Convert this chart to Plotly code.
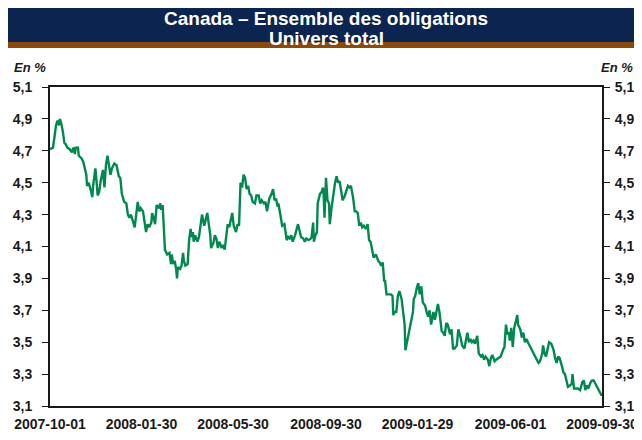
import pandas as pd
import plotly.graph_objects as go

# Jours depuis le 2007-10-01 et rendement (en %)
debut = pd.Timestamp("2007-10-01")
jours = [0, 4, 6, 8, 10, 12, 13, 15, 17, 19, 21, 23, 26, 29, 31, 33, 34, 37, 38, 40,
         42, 44, 46, 48, 49, 51, 53, 56, 57, 60, 61, 63, 65, 67, 70, 72, 74, 76, 78, 80,
         82, 85, 88, 91, 93, 95, 98, 101, 103, 105, 107, 109, 112, 114, 116, 118, 120, 123, 125, 127,
         129, 131, 134, 135, 137, 139, 141, 144, 146, 147, 149, 151, 152, 155, 158, 160, 161, 163, 165, 167,
         168, 169, 172, 174, 176, 177, 179, 182, 184, 186, 187, 189, 190, 192, 195, 197, 199, 201, 204, 206,
         208, 210, 212, 213, 216, 218, 220, 222, 224, 227, 229, 231, 233, 235, 237, 239, 241, 243, 246, 248,
         250, 252, 254, 256, 258, 260, 262, 264, 266, 268, 271, 273, 276, 278, 280, 283, 285, 287, 290, 293,
         295, 297, 299, 301, 302, 305, 307, 310, 311, 313, 315, 317, 319, 321, 324, 326, 328, 330, 332, 335,
         337, 339, 342, 345, 346, 348, 349, 351, 353, 354, 357, 359, 361, 362, 363, 365, 367, 369, 370, 372,
         374, 377, 379, 381, 383, 385, 387, 390, 392, 394, 396, 398, 401, 403, 405, 407, 409, 411, 413, 415,
         418, 420, 422, 424, 426, 428, 431, 434, 436, 438, 440, 442, 443, 445, 448, 451, 453, 454, 456, 458,
         460, 462, 465, 467, 469, 470, 473, 475, 477, 480, 481, 483, 485, 487, 489, 491, 493, 496, 498, 500,
         502, 504, 507, 509, 511, 513, 515, 518, 520, 522, 524, 526, 529, 531, 533, 535, 538, 540, 543, 545,
         548, 550, 552, 554, 556, 558, 560, 562, 565, 567, 570, 572, 574, 576, 579, 581, 583, 585, 588, 590,
         593, 596, 599, 601, 603, 605, 607, 608, 610, 612, 614, 616, 618, 619, 622, 624, 626, 628, 630, 633,
         635, 637, 639, 642, 644, 646, 648, 651, 652, 654, 656, 658, 660, 663, 666, 668, 670, 672, 674, 677,
         679, 681, 683, 685, 688, 690, 691, 693, 696, 698, 701, 704, 706, 708, 710, 712, 715, 717, 719, 722,
         724, 726, 729, 730]
rendement = [4.71, 4.72, 4.79, 4.86, 4.89, 4.86, 4.90, 4.87, 4.82, 4.75, 4.74, 4.72, 4.71, 4.69, 4.72, 4.68, 4.72, 4.72, 4.67, 4.66,
             4.65, 4.63, 4.58, 4.55, 4.48, 4.50, 4.47, 4.41, 4.48, 4.59, 4.54, 4.42, 4.44, 4.51, 4.58, 4.47, 4.61, 4.67, 4.61, 4.55,
             4.59, 4.62, 4.61, 4.54, 4.53, 4.43, 4.38, 4.37, 4.30, 4.28, 4.30, 4.26, 4.22, 4.30, 4.38, 4.32, 4.34, 4.32, 4.25, 4.19,
             4.24, 4.22, 4.25, 4.31, 4.28, 4.24, 4.36, 4.34, 4.37, 4.33, 4.36, 4.22, 4.08, 4.05, 4.06, 3.99, 4.05, 3.99, 4.01, 3.95,
             3.90, 3.97, 3.96, 3.98, 4.06, 4.01, 3.98, 3.99, 4.14, 4.21, 4.16, 4.19, 4.13, 4.17, 4.13, 4.16, 4.25, 4.30, 4.23, 4.28,
             4.31, 4.24, 4.17, 4.09, 4.12, 4.17, 4.15, 4.09, 4.13, 4.09, 4.11, 4.08, 4.18, 4.24, 4.22, 4.26, 4.31, 4.23, 4.19, 4.24,
             4.23, 4.50, 4.47, 4.55, 4.53, 4.46, 4.48, 4.43, 4.42, 4.38, 4.37, 4.42, 4.42, 4.37, 4.39, 4.37, 4.38, 4.32, 4.40, 4.43,
             4.46, 4.39, 4.40, 4.35, 4.37, 4.29, 4.23, 4.24, 4.19, 4.14, 4.16, 4.15, 4.17, 4.13, 4.17, 4.21, 4.24, 4.20, 4.16, 4.15,
             4.13, 4.15, 4.14, 4.15, 4.16, 4.25, 4.13, 4.17, 4.19, 4.37, 4.43, 4.44, 4.47, 4.42, 4.28, 4.53, 4.39, 4.37, 4.24, 4.33,
             4.41, 4.50, 4.54, 4.50, 4.51, 4.46, 4.39, 4.42, 4.45, 4.48, 4.47, 4.48, 4.40, 4.32, 4.32, 4.31, 4.23, 4.25, 4.22, 4.23,
             4.21, 4.24, 4.14, 4.13, 4.08, 4.03, 4.05, 4.01, 4.00, 3.98, 4.00, 3.88, 3.89, 3.80, 3.80, 3.80, 3.79, 3.67, 3.69, 3.69,
             3.79, 3.82, 3.77, 3.69, 3.61, 3.45, 3.52, 3.57, 3.61, 3.69, 3.77, 3.79, 3.84, 3.87, 3.80, 3.85, 3.75, 3.73, 3.69, 3.66,
             3.70, 3.61, 3.69, 3.64, 3.69, 3.74, 3.69, 3.57, 3.56, 3.54, 3.62, 3.61, 3.55, 3.58, 3.46, 3.46, 3.48, 3.58, 3.53, 3.48,
             3.46, 3.52, 3.56, 3.50, 3.52, 3.50, 3.51, 3.49, 3.54, 3.43, 3.41, 3.42, 3.39, 3.41, 3.39, 3.35, 3.40, 3.42, 3.38, 3.39,
             3.40, 3.41, 3.45, 3.47, 3.61, 3.55, 3.56, 3.51, 3.59, 3.47, 3.59, 3.64, 3.67, 3.61, 3.58, 3.53, 3.56, 3.50, 3.52, 3.49,
             3.47, 3.46, 3.44, 3.41, 3.39, 3.37, 3.38, 3.43, 3.48, 3.43, 3.41, 3.47, 3.50, 3.49, 3.45, 3.40, 3.37, 3.41, 3.40, 3.35,
             3.31, 3.30, 3.26, 3.22, 3.23, 3.24, 3.30, 3.21, 3.21, 3.21, 3.20, 3.25, 3.26, 3.20, 3.23, 3.21, 3.25, 3.26, 3.26, 3.23,
             3.22, 3.19, 3.17, 3.17]
dates = [debut + pd.Timedelta(days=j) for j in jours]

etiquettes_x = ["2007-10-01", "2008-01-30", "2008-05-30", "2008-09-30",
                "2009-01-29", "2009-06-01", "2009-09-30"]
valeurs_y = [3.1, 3.3, 3.5, 3.7, 3.9, 4.1, 4.3, 4.5, 4.7, 4.9, 5.1]

famille = "Liberation Sans, Arial, sans-serif"
police = dict(family=famille, size=14, color="#1a1a1a", weight="bold")
axe_y = dict(range=[3.1, 5.1], tickvals=valeurs_y, tickformat=".1f", showgrid=False, zeroline=False,
             showline=True, linecolor="#1a1a1a", linewidth=2, ticks="outside", ticklen=6,
             tickcolor="#1a1a1a", tickwidth=1, tickfont=police, fixedrange=True, automargin=False)

fig = go.Figure()
fig.add_trace(go.Scatter(x=dates, y=rendement, mode="lines",
                         line=dict(color="#00894f", width=2.4), showlegend=False))
# même série sur l'axe de droite (transparente) pour afficher ses graduations
fig.add_trace(go.Scatter(x=dates, y=rendement, mode="lines", yaxis="y2", opacity=0,
                         line=dict(color="#00894f", width=1), showlegend=False, hoverinfo="skip"))

# la page ajoute une marge de 8 px autour du graphique
fig.update_layout(
    width=634, height=424,
    margin=dict(l=42, r=40, t=79, b=26),
    paper_bgcolor="white", plot_bgcolor="white",
    separators=", ",
    xaxis=dict(range=[etiquettes_x[0], etiquettes_x[-1]], tickvals=etiquettes_x, ticktext=etiquettes_x,
               showgrid=False, zeroline=False, showline=True, linecolor="#1a1a1a", linewidth=2,
               mirror=True, ticks="outside", ticklen=4, tickcolor="rgba(0,0,0,0)", tickfont=police,
               automargin=False),
    yaxis=dict(axe_y, ticklabelstandoff=7),
    yaxis2=dict(axe_y, overlaying="y", side="right", ticklabelstandoff=2),
)

# Bandeau du titre
fig.add_shape(type="rect", xref="paper", yref="paper", x0=-0.0815, x1=1.075, y0=1.1413, y1=1.2575,
              fillcolor="#0b2550", line_width=0, layer="below")
fig.add_shape(type="rect", xref="paper", yref="paper", x0=-0.0815, x1=1.075, y0=1.1225, y1=1.1413,
              fillcolor="#8a4a0e", line_width=0, layer="below")
titre = dict(family=famille, size=19, color="white", weight="bold")
fig.add_annotation(text="Canada – Ensemble des obligations", xref="paper", yref="paper",
                   x=0.5, y=1.2135, yanchor="middle", showarrow=False, font=titre)
fig.add_annotation(text="Univers total", xref="paper", yref="paper",
                   x=0.5, y=1.1507, yanchor="middle", showarrow=False, font=titre)

police_unite = dict(police, size=13)
fig.add_annotation(text="<i>En %</i>", xref="paper", yref="paper", x=-0.0688, y=1.0597, xanchor="left",
                   yanchor="middle", showarrow=False, font=police_unite)
fig.add_annotation(text="<i>En %</i>", xref="paper", yref="paper", x=1.0598, y=1.0597, xanchor="right",
                   yanchor="middle", showarrow=False, font=police_unite)

fig.write_html("out.html")
